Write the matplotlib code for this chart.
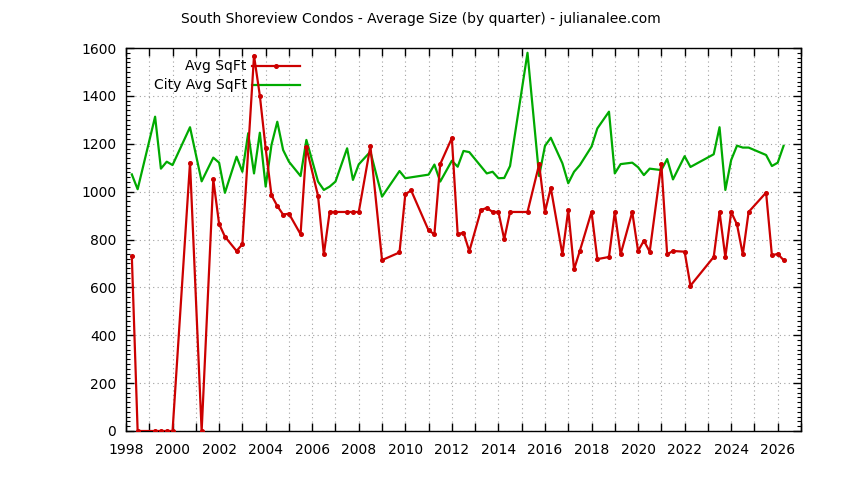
import matplotlib
matplotlib.use('Agg')
import matplotlib.pyplot as plt
from matplotlib.lines import Line2D
from matplotlib.ticker import MultipleLocator

# quarter positions (year + fraction) and values
avg_x = [1998.25, 1998.5, 1999.25, 1999.5, 1999.75, 2000.0, 2000.75, 2001.25,
         2001.75, 2002.0, 2002.25, 2002.75, 2003.0, 2003.5, 2003.75, 2004.0,
         2004.25, 2004.5, 2004.75, 2005.0, 2005.5, 2005.75, 2006.25, 2006.5,
         2006.75, 2007.0, 2007.5, 2007.75, 2008.0, 2008.5, 2009.0, 2009.75,
         2010.0, 2010.25, 2011.0, 2011.25, 2011.5, 2012.0, 2012.25, 2012.5,
         2012.75, 2013.25, 2013.5, 2013.75, 2014.0, 2014.25, 2014.5, 2015.25,
         2015.75, 2016.0, 2016.25, 2016.75, 2017.0, 2017.25, 2017.5, 2018.0,
         2018.25, 2018.75, 2019.0, 2019.25, 2019.75, 2020.0, 2020.25, 2020.5,
         2021.0, 2021.25, 2021.5, 2022.0, 2022.25, 2023.25, 2023.5, 2023.75,
         2024.0, 2024.25, 2024.5, 2024.75, 2025.5, 2025.75, 2026.0, 2026.25]
avg_sqft = [731, 0, 0, 0, 0, 0, 1121, 0,
            1051, 865, 812, 752, 780, 1568, 1401, 1181,
            985, 940, 904, 908, 822, 1185, 982, 738,
            915, 915, 915, 915, 915, 1190, 714, 746,
            989, 1005, 838, 822, 1115, 1224, 822, 829,
            751, 923, 932, 915, 915, 801, 915, 915,
            1114, 915, 1016, 738, 923, 675, 753, 915,
            718, 727, 915, 738, 915, 752, 795, 749,
            1115, 738, 752, 749, 607, 727, 915, 726,
            915, 863, 738, 915, 996, 734, 740, 714]

city_x = [1998.25, 1998.5, 1999.25, 1999.5, 1999.75, 2000.0, 2000.75, 2001.25,
          2001.75, 2002.0, 2002.25, 2002.75, 2003.0, 2003.25, 2003.5, 2003.75,
          2004.0, 2004.25, 2004.5, 2004.75, 2005.0, 2005.5, 2005.75, 2006.25,
          2006.5, 2006.75, 2007.0, 2007.5, 2007.75, 2008.0, 2008.5, 2009.0,
          2009.75, 2010.0, 2011.0, 2011.25, 2011.5, 2012.0, 2012.25, 2012.5,
          2012.75, 2013.5, 2013.75, 2014.0, 2014.25, 2014.5, 2015.25, 2015.75,
          2016.0, 2016.25, 2016.75, 2017.0, 2017.25, 2017.5, 2018.0, 2018.25,
          2018.75, 2019.0, 2019.25, 2019.75, 2020.0, 2020.25, 2020.5, 2021.0,
          2021.25, 2021.5, 2022.0, 2022.25, 2023.25, 2023.5, 2023.75, 2024.0,
          2024.25, 2024.5, 2024.75, 2025.5, 2025.75, 2026.0, 2026.25]
city_sqft = [1072, 1010, 1313, 1096, 1125, 1111, 1269, 1043,
             1142, 1121, 995, 1146, 1083, 1244, 1076, 1246,
             1021, 1195, 1292, 1174, 1125, 1065, 1216, 1042,
             1007, 1021, 1042, 1181, 1049, 1114, 1167, 979,
             1086, 1056, 1071, 1113, 1042, 1129, 1104, 1170,
             1165, 1076, 1083, 1056, 1057, 1107, 1580, 1065,
             1191, 1225, 1118, 1035, 1083, 1111, 1188, 1264,
             1334, 1076, 1115, 1121, 1102, 1069, 1096, 1090,
             1136, 1051, 1148, 1103, 1156, 1269, 1007, 1132,
             1192, 1184, 1184, 1153, 1107, 1121, 1191]

red = '#cc0000'
green = '#00aa00'

plt.rcParams['font.family'] = 'DejaVu Sans'
plt.rcParams['font.size'] = 10

fig = plt.figure(figsize=(8.44, 4.8), dpi=100)
ax = fig.add_axes([126 / 844, 49 / 480, 675 / 844, 383 / 480])

ax.plot(avg_x, avg_sqft, color=red, lw=1.6, marker='o', ms=2.6, zorder=3)
ax.plot(city_x, city_sqft, color=green, lw=1.6, zorder=2)

ax.set_xlim(1998, 2027)
ax.set_ylim(0, 1600)
ax.xaxis.set_major_locator(MultipleLocator(1))
ax.yaxis.set_major_locator(MultipleLocator(200))
ax.yaxis.set_minor_locator(MultipleLocator(20))
ax.set_xticklabels([str(int(t)) if int(t) % 2 == 0 else '' for t in ax.get_xticks()])
ax.tick_params(which='both', direction='in', top=True, right=True, labelsize=10)
ax.tick_params(which='major', length=6, width=1)
ax.tick_params(which='minor', length=3, width=0.8)
ax.tick_params(axis='x', pad=9)
ax.tick_params(axis='y', pad=7)
ax.grid(True, which='major', color='#a0a0a0', linestyle=(0, (1, 3)), lw=0.8)
for s in ax.spines.values():
    s.set_linewidth(1)

fig.text(421 / 844, 1 - 19 / 480, 'South Shoreview Condos - Average Size (by quarter) - julianalee.com',
         ha='center', va='center', fontsize=10)

# legend drawn by hand so labels are right aligned
for yy, label, col, mk in [(0.953, 'Avg SqFt', red, 'o'), (0.903, 'City Avg SqFt', green, None)]:
    ax.text(0.179, yy, label, transform=ax.transAxes, ha='right', va='center', fontsize=10)
    ax.add_line(Line2D([0.186, 0.258], [yy, yy], transform=ax.transAxes, color=col, lw=1.6))
    if mk:
        ax.add_line(Line2D([0.222], [yy], transform=ax.transAxes, color=col, marker=mk, ms=2.6))

fig.savefig('out.png', dpi=100)
